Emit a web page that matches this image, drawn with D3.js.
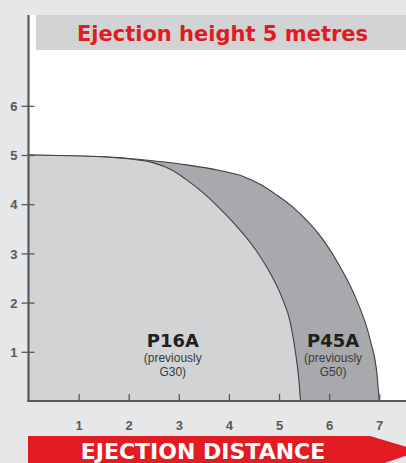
<!DOCTYPE html>
<html><head><meta charset="utf-8">
<script src="https://cdn.jsdelivr.net/npm/d3@7"></script>
<style>html,body{margin:0;padding:0;background:#e6e7e8;}svg{display:block;}</style>
</head><body>
<svg id="c" width="406" height="463"></svg>
<script>
const title = "Ejection height 5 metres";
const xLabel = "EJECTION DISTANCE";
const xTicks = [1,2,3,4,5,6,7];
const yTicks = [1,2,3,4,5,6];
// P16A (previously G30) envelope: [distance, height]
const p16aX = [0, 1.0, 1.8, 2.5, 2.85, 3.15, 3.5, 3.85, 4.2, 4.55, 4.85, 5.08, 5.22, 5.32, 5.39, 5.43];
const p16aY = [5, 4.98, 4.94, 4.84, 4.70, 4.50, 4.22, 3.88, 3.50, 3.05, 2.55, 2.05, 1.62, 1.05, 0.50, 0];
// P45A (previously G50) envelope
const p45aX = [0, 1.0, 1.8, 2.5, 3.15, 3.8, 4.3, 4.65, 4.95, 5.3, 5.62, 5.9, 6.22, 6.55, 6.82, 6.96, 7.0];
const p45aY = [5, 4.98, 4.95, 4.88, 4.80, 4.69, 4.56, 4.39, 4.19, 3.92, 3.60, 3.25, 2.73, 2.05, 1.24, 0.50, 0];
const names = ["P16A", "P45A"];
const notes = [["(previously", "G30)"], ["(previously", "G50)"]];
const labelX = [2.88, 6.08];

const svg = d3.select("#c");
const x = d3.scaleLinear().domain([0, 7]).range([28.5, 379.2]);
const y = d3.scaleLinear().domain([0, 6]).range([401, 105.8]);

// backgrounds
svg.append("rect").attr("x",0).attr("y",0).attr("width",406).attr("height",463).attr("fill","#e6e7e8");
svg.append("rect").attr("x",28).attr("y",15).attr("width",378).attr("height",386).attr("fill","#ffffff");
svg.append("rect").attr("x",36).attr("y",15).attr("width",370).attr("height",35).attr("fill","#d1d3d4");
svg.append("text").attr("x",222.5).attr("y",40.5).attr("text-anchor","middle")
  .attr("font-family","DejaVu Sans").attr("font-weight","bold").attr("font-size",21)
  .attr("fill","#e11b22").text(title);

function area(xs, ys) {
  const pts = xs.map((d,i)=>[d, ys[i]]);
  const line = d3.line().x(d=>x(d[0])).y(d=>y(d[1])).curve(d3.curveMonotoneX);
  return {fill: line(pts) + "L" + x(0) + "," + y(0) + "Z", line: line(pts)};
}
const a45 = area(p45aX, p45aY), a16 = area(p16aX, p16aY);
svg.append("path").attr("d", a45.fill).attr("fill","#a7a9ac");
svg.append("path").attr("d", a45.line).attr("fill","none").attr("stroke","#414042").attr("stroke-width",1.1);
svg.append("path").attr("d", a16.fill).attr("fill","#d1d3d4");
svg.append("path").attr("d", a16.line).attr("fill","none").attr("stroke","#414042").attr("stroke-width",1.1);

// series labels
names.forEach((n,i)=>{
  const g = svg.append("g").attr("text-anchor","middle");
  g.append("text").attr("x",x(labelX[i])).attr("y",347).attr("font-family","DejaVu Sans")
    .attr("font-weight","bold").attr("font-size",18).attr("fill","#231f20").text(n);
  g.append("text").attr("x",x(labelX[i])).attr("y",362).attr("font-family","Liberation Sans")
    .attr("font-size",12).attr("fill","#3c3c3e").text(notes[i][0]);
  g.append("text").attr("x",x(labelX[i])).attr("y",376).attr("font-family","Liberation Sans")
    .attr("font-size",12).attr("fill","#3c3c3e").text(notes[i][1]);
});

// axes
const axCol = "#58595b";
const gy = svg.append("g").attr("transform",`translate(${x(0)},0)`)
  .call(d3.axisLeft(y).tickValues(yTicks).tickSize(7).tickPadding(4).tickFormat(d3.format("d")));
gy.select(".domain").remove();
gy.selectAll(".tick line").attr("x1",-7).attr("x2",6).attr("stroke",axCol).attr("stroke-width",1.3);
gy.selectAll(".tick text").attr("font-family","Liberation Sans").attr("font-weight","bold")
  .attr("font-size",13).attr("fill",axCol).attr("dy","0.36em");

const gx = svg.append("g").attr("transform",`translate(0,${y(0)})`)
  .call(d3.axisBottom(x).tickValues(xTicks).tickSize(7).tickPadding(13).tickFormat(d3.format("d")));
gx.select(".domain").remove();
gx.selectAll(".tick line").attr("y1",-7).attr("y2",1).attr("stroke",axCol).attr("stroke-width",1.3);
gx.selectAll(".tick text").attr("font-family","Liberation Sans").attr("font-weight","bold")
  .attr("font-size",13).attr("fill",axCol).attr("dy","0.71em");

svg.append("line").attr("x1",x(0)).attr("x2",x(0)).attr("y1",15).attr("y2",y(0)+1)
  .attr("stroke",axCol).attr("stroke-width",2.2);
svg.append("line").attr("x1",x(0)-1).attr("x2",406).attr("y1",y(0)).attr("y2",y(0))
  .attr("stroke",axCol).attr("stroke-width",2.2);

// red banner
svg.append("path").attr("d","M28,436 L370,436 L420,451 L370,468 L28,468 Z").attr("fill","#e31b23");
svg.append("text").attr("x",203).attr("y",459).attr("text-anchor","middle")
  .attr("font-family","DejaVu Sans").attr("font-weight","bold").attr("font-size",22)
  .attr("fill","#ffffff").text(xLabel);
</script>
</body></html>
